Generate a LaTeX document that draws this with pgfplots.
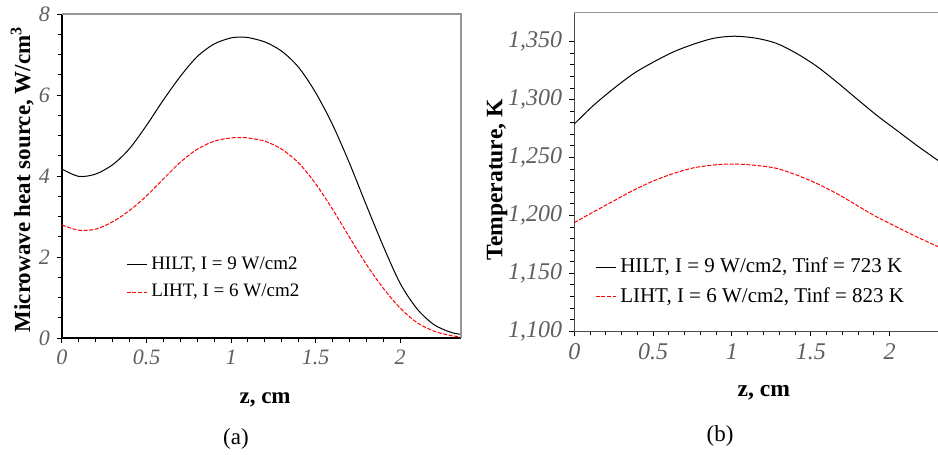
\documentclass[border=0pt]{standalone}
\usepackage{fontspec}
\setmainfont{Liberation Serif}
\usepackage{pgfplots}
\pgfplotsset{compat=1.18}
\definecolor{ticktext}{RGB}{95,95,95}
\definecolor{frame}{RGB}{150,150,150}

\pgfplotstableread{
z     q
0     4.17
0.1   3.99
0.2   4.05
0.3   4.28
0.4   4.68
0.5   5.25
0.6   5.88
0.7   6.46
0.8   6.95
0.9   7.26
1.0   7.41
1.07  7.43
1.1   7.42
1.2   7.31
1.3   7.08
1.4   6.68
1.5   6.06
1.6   5.27
1.7   4.32
1.8   3.28
1.9   2.27
2.0   1.35
2.1   0.72
2.2   0.33
2.3   0.14
2.36  0.09
}\hiltq
\pgfplotstableread{
z     q
0     2.79
0.1   2.66
0.2   2.69
0.3   2.87
0.4   3.15
0.5   3.51
0.6   3.93
0.7   4.34
0.8   4.66
0.9   4.86
1.0   4.94
1.06  4.95
1.1   4.94
1.2   4.86
1.3   4.66
1.4   4.32
1.5   3.81
1.6   3.18
1.7   2.49
1.8   1.82
1.9   1.23
2.0   0.74
2.1   0.38
2.2   0.17
2.3   0.06
2.36  0.03
}\lihtq
\pgfplotstableread{
z     T
0     1279.0
0.125 1295.4
0.252 1309.8
0.379 1322.7
0.506 1332.7
0.633 1341.4
0.760 1348.0
0.887 1353.0
1.014 1354.7
1.152 1353.0
1.281 1348.6
1.408 1340.0
1.535 1329.0
1.662 1315.5
1.789 1301.0
1.916 1286.7
2.042 1273.8
2.169 1260.8
2.309 1247.3
}\hiltT
\pgfplotstableread{
z     T
0     1193.8
0.125 1203.3
0.252 1212.7
0.379 1222.0
0.506 1230.0
0.633 1236.4
0.760 1241.2
0.887 1243.6
1.014 1244.4
1.152 1243.2
1.281 1240.7
1.408 1235.0
1.535 1227.8
1.662 1219.1
1.789 1209.0
1.916 1198.9
2.042 1190.3
2.169 1181.7
2.309 1173.0
}\lihtT

\pgfplotsset{
  panel/.style={
    scale only axis,
    axis x line*=bottom, axis y line*=left,
    axis line style={-, line width=0.6pt},
    tick align=outside,
    major tick length=2.5pt, minor tick length=2pt,
    every tick/.style={black, line width=0.5pt},
    tick label style={font=\fontsize{11}{13}\selectfont\itshape, text=ticktext},
    /pgf/number format/assume math mode=true,
    label style={font=\fontsize{11.5}{14}\selectfont\bfseries},
    xlabel={z, cm},
    xmin=0,
    xtick={0,0.5,1,1.5,2},
    minor x tick num=4,
    clip=false,
    legend style={draw=none, fill=none, font=\fontsize{9.5}{12}\selectfont,
      cells={anchor=west}, row sep=2pt},
    legend image code/.code={\draw[#1] (0pt,0pt) -- (10pt,0pt);},
  },
  hilt/.style={black, line width=0.5pt, smooth},
  liht/.style={red, line width=0.5pt, smooth, dash pattern=on 2pt off 0.8pt},
}

\begin{document}
\begin{tikzpicture}
\useasboundingbox (0,0) rectangle (469pt,-227.5pt);

% (a) heat source
\begin{axis}[
  panel,
  at={(31pt,-169pt)}, anchor=south west,
  width=199.5pt, height=162pt,
  xmax=2.36, ymin=0, ymax=8,
  ytick={0,2,4,6,8}, minor y tick num=3,
  ylabel={Microwave heat source, W/cm\textsuperscript{3}},
  ylabel style={at={(axis description cs:-0.1,0.49)}, anchor=center},
  xlabel style={at={(axis description cs:0.509,-0.191)}, anchor=center},
  legend style={at={(axis description cs:0.145,0.184)}, anchor=west},
]
\addplot[hilt] table[x=z, y=q] {\hiltq};
\addlegendentry{HILT, I = 9 W/cm2}
\addplot[liht] table[x=z, y=q] {\lihtq};
\addlegendentry{LIHT, I = 6 W/cm2}
\draw[frame, line width=0.6pt] (rel axis cs:0,1) -- (rel axis cs:1,1) -- (rel axis cs:1,0);
\end{axis}

% (b) temperature
\begin{axis}[
  panel,
  at={(287.15pt,-165.65pt)}, anchor=south west,
  width=182pt, height=159.3pt,
  axis line style={-, line width=0.6pt, black!70},
  tick label style={font=\fontsize{12}{14}\selectfont\itshape},
  label style={font=\fontsize{11.8}{14}\selectfont\bfseries},
  xmax=2.309, ymin=1100, ymax=1375,
  ytick={1100,1150,1200,1250,1300,1350}, minor y tick num=4,
  scaled y ticks=false,
  ylabel={Temperature, K},
  ylabel style={at={(axis description cs:-0.212,0.475)}, anchor=center},
  xlabel style={at={(axis description cs:0.521,-0.194)}, anchor=center},
  legend style={at={(axis description cs:0.04,0.155)}, anchor=west,
    font=\fontsize{10.5}{13}\selectfont},
]
\addplot[hilt] table[x=z, y=T] {\hiltT};
\addlegendentry{HILT, I = 9 W/cm2, Tinf = 723 K}
\addplot[liht] table[x=z, y=T] {\lihtT};
\addlegendentry{LIHT, I = 6 W/cm2, Tinf = 823 K}
\draw[frame, line width=0.6pt] (rel axis cs:0,1) -- (rel axis cs:1,1);
\end{axis}

\node[font=\fontsize{11.5}{14}\selectfont] at (118pt,-219.5pt) {(a)};
\node[font=\fontsize{11.5}{14}\selectfont] at (360pt,-218pt) {(b)};
\end{tikzpicture}
\end{document}
